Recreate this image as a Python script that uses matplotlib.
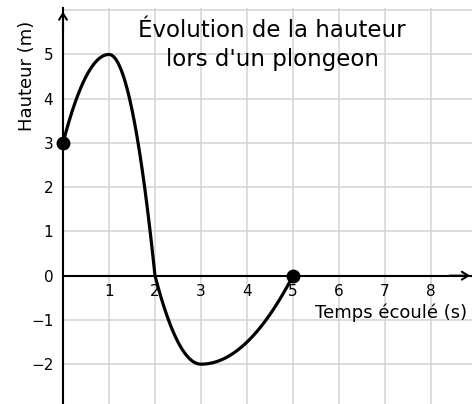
import numpy as np
import matplotlib
matplotlib.use("Agg")
import matplotlib.pyplot as plt

# Key points of the dive: height (m) against elapsed time (s).
# Between two consecutive key points the path is a parabolic arc whose
# vertex sits at the extremum (the top of the jump or the lowest point).
temps = [0, 1, 2, 3, 5]
hauteur = [3, 5, 0, -2, 0]
extremes = [1, 3]          # times where the arc has its vertex

# Highlighted points: start of the dive and the return to the surface
points_x = [0, 5]
points_y = [3, 0]

x_ticks = [1, 2, 3, 4, 5, 6, 7, 8]
y_ticks = [-2, -1, 0, 1, 2, 3, 4, 5]
grid_x = [1, 2, 3, 4, 5, 6, 7, 8]
grid_y = [-2, -1, 1, 2, 3, 4, 5, 6]


def arc(x0, y0, x1, y1, n=200):
    """Parabolic arc between two points, with its vertex at the extremum end."""
    if x0 in extremes:
        vx, vy, ex, ey = x0, y0, x1, y1
    else:
        vx, vy, ex, ey = x1, y1, x0, y0
    a = (ey - vy) / (ex - vx) ** 2
    xs = np.linspace(x0, x1, n)
    return xs, vy + a * (xs - vx) ** 2


fig = plt.figure(figsize=(4.72, 4.04), dpi=100)
ax = fig.add_axes([63 / 472, 0.0, 409 / 472, 396 / 404])
ax.set_xlim(0, 409 / 46)
ax.set_ylim(-2.9, 6.05)

grid_color = "#d3d3d3"
for gx in grid_x:
    ax.axvline(gx, color=grid_color, lw=1.1, zorder=0)
for gy in grid_y:
    ax.axhline(gy, color=grid_color, lw=1.1, zorder=0)

# Axes through the origin
for side in ("top", "right"):
    ax.spines[side].set_visible(False)
ax.spines["bottom"].set_position(("data", 0))
ax.spines["left"].set_position(("data", 0))
ax.spines["bottom"].set_linewidth(1.5)
ax.spines["left"].set_linewidth(1.5)

ax.set_xticks(x_ticks)
ax.set_xticklabels([str(v) for v in x_ticks])
ax.set_yticks(y_ticks)
ax.set_yticklabels([str(v).replace("-", "\u2212") for v in y_ticks])
ax.tick_params(axis="x", length=0, pad=6, labelsize=11)
ax.tick_params(axis="y", length=0, pad=7, labelsize=11)

# Arrow heads on both axes
ax.annotate("", xy=(8.85, 0), xytext=(8.4, 0),
            arrowprops=dict(arrowstyle="->,head_length=0.45,head_width=0.28",
                            lw=1.5, color="black", shrinkA=0, shrinkB=0))
ax.annotate("", xy=(0, 5.97), xytext=(0, 5.5),
            arrowprops=dict(arrowstyle="->,head_length=0.45,head_width=0.28",
                            lw=1.5, color="black", shrinkA=0, shrinkB=0))

xs_all, ys_all = [], []
for i in range(len(temps) - 1):
    xs, ys = arc(temps[i], hauteur[i], temps[i + 1], hauteur[i + 1])
    xs_all.append(xs)
    ys_all.append(ys)
ax.plot(np.concatenate(xs_all), np.concatenate(ys_all), color="black",
        lw=2.3, solid_capstyle="round", solid_joinstyle="round", zorder=3)
ax.plot(points_x, points_y, "o", color="black", markersize=9,
        zorder=4, clip_on=False)

ax.set_xlabel("Temps écoulé (s)", fontsize=13, ha="right", va="center")
ax.xaxis.set_label_coords(404 / 409, (404 - 313) / 396)
ax.set_ylabel("Hauteur (m)", fontsize=13, ha="center", va="center")
ax.yaxis.set_label_coords(-36 / 409, (404 - 76) / 396)

fig.text(272 / 472, 1 - 45 / 404, "Évolution de la hauteur\nlors d'un plongeon",
         ha="center", va="center", fontsize=16.5, linespacing=1.3)

fig.savefig("out.png", dpi=100)
